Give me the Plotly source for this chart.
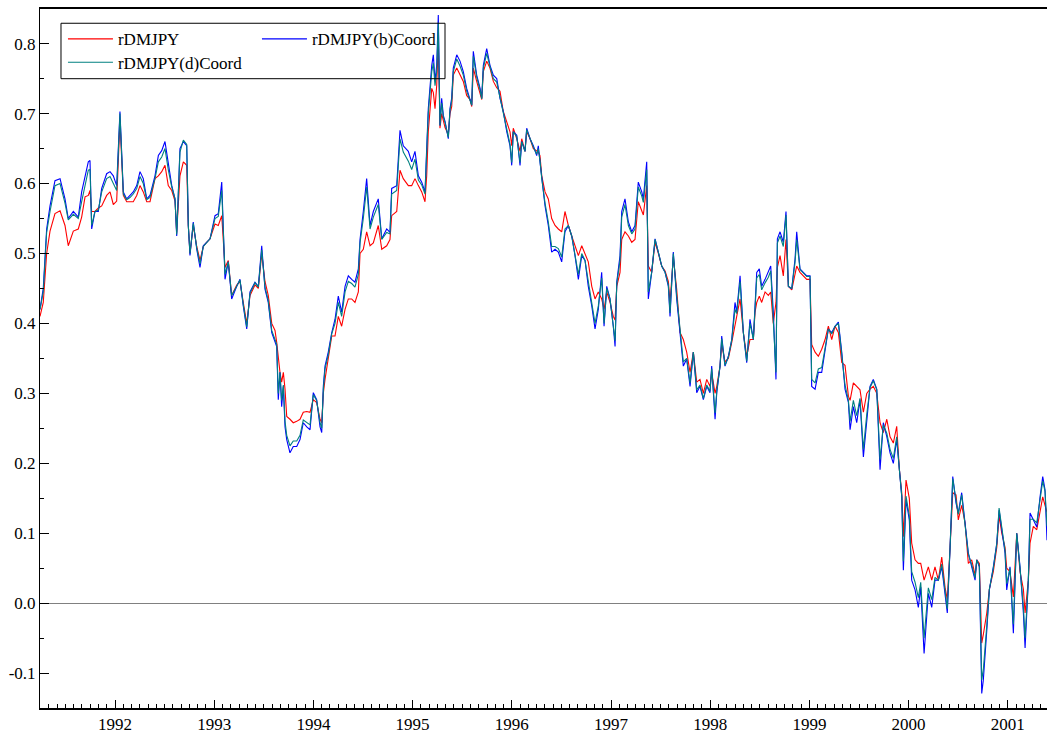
import plotly.graph_objects as go

# time (decimal years)
dates = [
    1991.244, 1991.277, 1991.311, 1991.345, 1991.395, 1991.446, 1991.496, 1991.529, 1991.580, 1991.630,
    1991.664, 1991.698, 1991.731, 1991.748, 1991.765, 1991.798, 1991.832, 1991.866, 1991.916, 1991.950,
    1991.983, 1992.017, 1992.050, 1992.084, 1992.118, 1992.151, 1992.184, 1992.219, 1992.252, 1992.285,
    1992.320, 1992.353, 1992.403, 1992.437, 1992.471, 1992.504, 1992.537, 1992.572, 1992.605, 1992.622,
    1992.655, 1992.689, 1992.723, 1992.739, 1992.756, 1992.789, 1992.824, 1992.857, 1992.890, 1992.924,
    1992.958, 1993.008, 1993.041, 1993.076, 1993.109, 1993.142, 1993.176, 1993.227, 1993.260, 1993.293,
    1993.328, 1993.361, 1993.411, 1993.445, 1993.479, 1993.512, 1993.545, 1993.580, 1993.613, 1993.630,
    1993.646, 1993.663, 1993.680, 1993.697, 1993.714, 1993.731, 1993.764, 1993.797, 1993.832, 1993.865,
    1993.898, 1993.933, 1993.966, 1993.999, 1994.033, 1994.067, 1994.084, 1994.100, 1994.117, 1994.150,
    1994.185, 1994.218, 1994.251, 1994.285, 1994.319, 1994.352, 1994.386, 1994.419, 1994.453, 1994.470,
    1994.503, 1994.537, 1994.571, 1994.604, 1994.654, 1994.689, 1994.739, 1994.772, 1994.789, 1994.840,
    1994.873, 1994.906, 1994.957, 1994.991, 1995.024, 1995.058, 1995.092, 1995.125, 1995.142, 1995.158,
    1995.193, 1995.209, 1995.226, 1995.243, 1995.259, 1995.276, 1995.293, 1995.310, 1995.327, 1995.360,
    1995.377, 1995.394, 1995.410, 1995.445, 1995.478, 1995.511, 1995.545, 1995.579, 1995.596, 1995.612,
    1995.646, 1995.680, 1995.697, 1995.713, 1995.747, 1995.780, 1995.814, 1995.848, 1995.881, 1995.914,
    1995.949, 1995.982, 1995.999, 1996.015, 1996.050, 1996.083, 1996.100, 1996.133, 1996.150, 1996.184,
    1996.217, 1996.251, 1996.267, 1996.284, 1996.302, 1996.335, 1996.368, 1996.402, 1996.436, 1996.469,
    1996.503, 1996.536, 1996.570, 1996.604, 1996.637, 1996.671, 1996.705, 1996.738, 1996.771, 1996.806,
    1996.839, 1996.872, 1996.906, 1996.930, 1996.957, 1996.990, 1997.023, 1997.041, 1997.058, 1997.091,
    1997.108, 1997.141, 1997.175, 1997.209, 1997.242, 1997.275, 1997.310, 1997.326, 1997.360, 1997.376,
    1997.410, 1997.444, 1997.477, 1997.511, 1997.545, 1997.578, 1997.595, 1997.628, 1997.662, 1997.696,
    1997.729, 1997.763, 1997.797, 1997.830, 1997.864, 1997.897, 1997.931, 1997.965, 1997.998, 1998.015,
    1998.049, 1998.066, 1998.099, 1998.116, 1998.149, 1998.183, 1998.217, 1998.250, 1998.267, 1998.301,
    1998.334, 1998.368, 1998.401, 1998.435, 1998.452, 1998.469, 1998.495, 1998.519, 1998.553, 1998.586,
    1998.610, 1998.636, 1998.663, 1998.677, 1998.704, 1998.737, 1998.764, 1998.788, 1998.822, 1998.855,
    1998.872, 1998.905, 1998.939, 1998.973, 1999.006, 1999.023, 1999.057, 1999.090, 1999.124, 1999.158,
    1999.191, 1999.225, 1999.258, 1999.292, 1999.326, 1999.359, 1999.393, 1999.410, 1999.443, 1999.477,
    1999.510, 1999.544, 1999.578, 1999.611, 1999.644, 1999.679, 1999.712, 1999.745, 1999.780, 1999.813,
    1999.846, 1999.880, 1999.907, 1999.931, 1999.947, 1999.974, 2000.007, 2000.031, 2000.065, 2000.098,
    2000.122, 2000.156, 2000.199, 2000.233, 2000.266, 2000.300, 2000.334, 2000.367, 2000.390, 2000.418,
    2000.445, 2000.478, 2000.501, 2000.535, 2000.569, 2000.602, 2000.636, 2000.670, 2000.687, 2000.713,
    2000.737, 2000.753, 2000.788, 2000.814, 2000.854, 2000.889, 2000.912, 2000.939, 2000.972, 2000.989,
    2001.022, 2001.056, 2001.090, 2001.123, 2001.157, 2001.174, 2001.207, 2001.224, 2001.257, 2001.292,
    2001.325, 2001.352, 2001.375, 2001.395,
]

rdmjpy = [
    .41, .43, .50, .532, .557, .561, .54, .511, .532, .535,
    .552, .581, .583, .59, .56, .56, .565, .568, .583, .588,
    .57, .575, .69, .583, .574, .574, .574, .583, .597, .588,
    .574, .574, .607, .611, .617, .626, .597, .59, .575, .53,
    .611, .631, .626, .54, .50, .54, .51, .49, .51, .516,
    .521, .542, .54, .554, .48, .49, .44, .455, .46, .43,
    .40, .44, .455, .45, .50, .46, .44, .40, .39, .373,
    .35, .33, .316, .33, .306, .267, .263, .258, .26, .263,
    .273, .274, .273, .291, .287, .263, .258, .30, .32, .349,
    .382, .382, .41, .396, .42, .435, .435, .43, .445, .50,
    .506, .531, .511, .515, .54, .506, .511, .52, .554, .56,
    .619, .607, .597, .597, .607, .597, .588, .574, .611, .674,
    .736, .73, .707, .74, .803, .679, .70, .69, .68, .67,
    .70, .71, .755, .765, .755, .746, .726, .72, .71, .765,
    .746, .73, .72, .76, .775, .765, .746, .737, .732, .703,
    .689, .674, .654, .679, .664, .646, .664, .646, .674, .664,
    .65, .646, .645, .64, .611, .588, .578, .55, .54, .535,
    .531, .56, .54, .525, .511, .497, .511, .50, .488, .453,
    .435, .445, .435, .42, .445, .43, .41, .405, .453, .473,
    .52, .531, .525, .516, .52, .574, .56, .555, .597, .482,
    .473, .516, .50, .482, .475, .46, .43, .495, .449, .387,
    .377, .359, .33, .359, .316, .32, .30, .32, .31, .33,
    .30, .31, .339, .37, .345, .35, .373, .396, .41, .435,
    .387, .353, .377, .377, .416, .43, .439, .43, .445, .44,
    .445, .40, .43, .48, .497, .468, .52, .453, .448, .47,
    .482, .473, .468, .463, .463, .37, .359, .353, .363, .377,
    .396, .377, .396, .387, .344, .34, .296, .29, .315, .31,
    .305, .273, .30, .306, .31, .30, .258, .244, .263, .238,
    .229, .253, .191, .158, .095, .176, .15, .086, .062, .057,
    .057, .033, .052, .033, .052, .033, .066, .023, .005, .08,
    .158, .155, .119, .14, .115, .057, .062, .04, .062, .057,
    -.057, -.045, -.014, .02, .045, .08, .125, .10, .08, .05,
    .045, .009, .10, .045, .02, -.014, .033, .086, .11, .105,
    .13, .152, .14, .13,
]

rdmjpy_b = [
    .42, .45, .535, .568, .604, .607, .578, .55, .56, .552,
    .588, .611, .631, .633, .535, .56, .56, .593, .614, .617,
    .611, .597, .703, .588, .578, .583, .588, .597, .617, .607,
    .578, .583, .611, .64, .647, .66, .626, .597, .578, .525,
    .65, .66, .654, .54, .497, .545, .506, .48, .511, .516,
    .521, .554, .557, .602, .463, .488, .435, .453, .463, .425,
    .392, .445, .459, .453, .511, .449, .43, .387, .373, .367,
    .291, .33, .281, .31, .252, .234, .215, .224, .224, .234,
    .258, .252, .248, .301, .291, .252, .244, .31, .339, .359,
    .387, .406, .439, .416, .453, .468, .463, .459, .478, .52,
    .56, .607, .54, .56, .578, .521, .535, .53, .593, .597,
    .676, .654, .646, .631, .646, .611, .602, .588, .65, .707,
    .769, .784, .746, .769, .841, .683, .722, .697, .689, .664,
    .707, .722, .765, .784, .775, .76, .736, .722, .712, .789,
    .755, .736, .722, .769, .793, .769, .755, .75, .722, .703,
    .674, .654, .626, .674, .669, .626, .66, .646, .679, .664,
    .654, .64, .654, .631, .607, .568, .54, .502, .506, .502,
    .488, .531, .54, .525, .497, .463, .497, .49, .453, .425,
    .392, .42, .473, .396, .453, .435, .396, .367, .459, .497,
    .56, .578, .545, .531, .54, .602, .588, .578, .631, .435,
    .473, .521, .502, .482, .473, .453, .41, .502, .435, .387,
    .339, .349, .31, .359, .301, .31, .291, .31, .301, .339,
    .263, .301, .339, .382, .339, .353, .377, .43, .416, .468,
    .387, .344, .406, .377, .42, .473, .478, .453, .463, .473,
    .482, .416, .32, .521, .531, .516, .56, .453, .45, .492,
    .531, .478, .473, .468, .468, .31, .306, .33, .33, .363,
    .392, .387, .396, .402, .359, .306, .287, .248, .281, .258,
    .291, .209, .263, .31, .32, .306, .191, .258, .238, .215,
    .20, .234, .191, .152, .047, .148, .119, .033, .019, -.006,
    .023, -.072, .014, -.006, .033, .033, .052, .009, -.014, .08,
    .181, .143, .129, .158, .109, .072, .052, .033, .062, .052,
    -.129, -.11, -.039, .019, .052, .086, .133, .105, .072, .019,
    .052, -.043, .10, .052, -.014, -.064, .033, .129, .119, .109,
    .152, .181, .162, .09,
]

rdmjpy_d = [
    .42, .445, .53, .56, .597, .60, .572, .548, .556, .55,
    .574, .597, .619, .62, .54, .56, .562, .588, .607, .61,
    .60, .59, .70, .585, .577, .58, .585, .593, .61, .60,
    .577, .58, .607, .631, .638, .65, .62, .595, .578, .527,
    .645, .662, .656, .54, .50, .543, .508, .485, .51, .516,
    .521, .55, .553, .59, .47, .488, .44, .453, .462, .427,
    .395, .443, .458, .452, .505, .452, .433, .39, .378, .37,
    .30, .33, .29, .312, .26, .24, .225, .232, .232, .24,
    .262, .258, .255, .298, .29, .258, .25, .305, .335, .355,
    .385, .40, .43, .41, .445, .46, .457, .452, .47, .515,
    .55, .595, .535, .552, .57, .52, .53, .528, .585, .59,
    .664, .645, .632, .62, .635, .605, .598, .585, .64, .70,
    .76, .772, .74, .76, .83, .683, .715, .695, .687, .666,
    .705, .718, .76, .778, .768, .755, .732, .72, .712, .782,
    .752, .734, .721, .765, .786, .767, .75, .745, .722, .70,
    .676, .656, .63, .674, .667, .63, .66, .646, .677, .664,
    .652, .642, .65, .633, .607, .572, .545, .51, .51, .507,
    .495, .535, .54, .525, .50, .47, .50, .49, .46, .43,
    .40, .425, .465, .40, .45, .435, .40, .375, .457, .49,
    .552, .57, .54, .528, .535, .595, .582, .573, .62, .445,
    .473, .52, .502, .482, .473, .455, .415, .50, .44, .387,
    .345, .35, .315, .359, .305, .312, .293, .312, .303, .335,
    .272, .303, .339, .378, .34, .352, .376, .42, .414, .46,
    .387, .346, .40, .377, .42, .465, .47, .448, .458, .466,
    .475, .412, .33, .515, .525, .51, .555, .453, .45, .487,
    .52, .477, .472, .467, .467, .32, .315, .335, .337, .365,
    .392, .385, .396, .40, .355, .312, .29, .26, .29, .268,
    .293, .22, .27, .308, .318, .305, .205, .255, .243, .22,
    .207, .238, .191, .153, .06, .153, .125, .045, .03, .008,
    .03, -.05, .022, .005, .037, .033, .056, .013, -.008, .08,
    .178, .147, .127, .155, .112, .07, .055, .036, .062, .053,
    -.11, -.095, -.032, .02, .05, .085, .136, .108, .075, .028,
    .05, -.03, .10, .05, -.005, -.05, .033, .12, .12, .115,
    .15, .175, .16, .11,
]

year_ticks = [1992, 1993, 1994, 1995, 1996, 1997, 1998, 1999, 2000, 2001]
y_ticks = [-0.1, 0.0, 0.1, 0.2, 0.3, 0.4, 0.5, 0.6, 0.7, 0.8]

assert len(dates) == len(rdmjpy) == len(rdmjpy_b) == len(rdmjpy_d), (
    len(dates), len(rdmjpy), len(rdmjpy_b), len(rdmjpy_d))

FONT = "Liberation Serif, Times New Roman, serif"

fig = go.Figure()
fig.add_trace(go.Scatter(x=dates, y=rdmjpy, mode="lines", name="rDMJPY",
                         line=dict(color="#ff0000", width=1.1), legend="legend"))
fig.add_trace(go.Scatter(x=dates, y=rdmjpy_b, mode="lines", name="rDMJPY(b)Coord",
                         line=dict(color="#0000ff", width=1.1), legend="legend"))
fig.add_trace(go.Scatter(x=dates, y=rdmjpy_d, mode="lines", name="rDMJPY(d)Coord",
                         line=dict(color="#008080", width=1.1), legend="legend2"))

fig.update_layout(
    width=1047, height=739,
    margin=dict(l=40, r=0, t=9, b=31),
    paper_bgcolor="white", plot_bgcolor="white",
    font=dict(family=FONT, size=17, color="black"),
    showlegend=True,
    legend=dict(orientation="h", x=0.0228, y=0.9824, xanchor="left", yanchor="top",
                bgcolor="rgba(0,0,0,0)", borderwidth=0, itemwidth=45,
                entrywidth=134, entrywidthmode="pixels",
                font=dict(family=FONT, size=17, color="black")),
    legend2=dict(orientation="h", x=0.0228, y=0.9490, xanchor="left", yanchor="top",
                 bgcolor="rgba(0,0,0,0)", borderwidth=0, itemwidth=45,
                 font=dict(family=FONT, size=17, color="black")),
    shapes=[dict(type="rect", xref="paper", yref="paper",
                 x0=0.02085, x1=0.4022, y0=0.9003, y1=0.9796,
                 line=dict(color="black", width=1), fillcolor="rgba(0,0,0,0)",
                 layer="above")],
)

fig.update_xaxes(
    range=[1991.244, 2001.395],
    tickmode="array", tickvals=year_ticks, ticktext=[str(y) for y in year_ticks],
    ticks="inside", ticklen=8, tickwidth=1, tickcolor="black",
    minor=dict(ticks="inside", ticklen=4, tickwidth=1, tickcolor="black",
               tick0=1992, dtick=1 / 12),
    showgrid=False, zeroline=False,
    showline=True, linecolor="black", linewidth=1.5, mirror=True,
    tickfont=dict(family=FONT, size=17, color="black"),
)
fig.update_yaxes(
    range=[-0.1498, 0.8495],
    tickmode="array", tickvals=y_ticks, ticktext=[f"{v:.1f}" for v in y_ticks],
    ticks="inside", ticklen=9, tickwidth=1, tickcolor="black",
    minor=dict(ticks="inside", ticklen=4, tickwidth=1, tickcolor="black",
               tick0=0, dtick=0.05),
    showgrid=False,
    zeroline=True, zerolinecolor="#808080", zerolinewidth=1,
    showline=True, linecolor="black", linewidth=1,
    tickfont=dict(family=FONT, size=17, color="black"),
)

fig.write_html(
    "out.html",
    config={"displayModeBar": False},
    post_script="document.body.style.margin='0';document.body.style.overflow='hidden';",
)
